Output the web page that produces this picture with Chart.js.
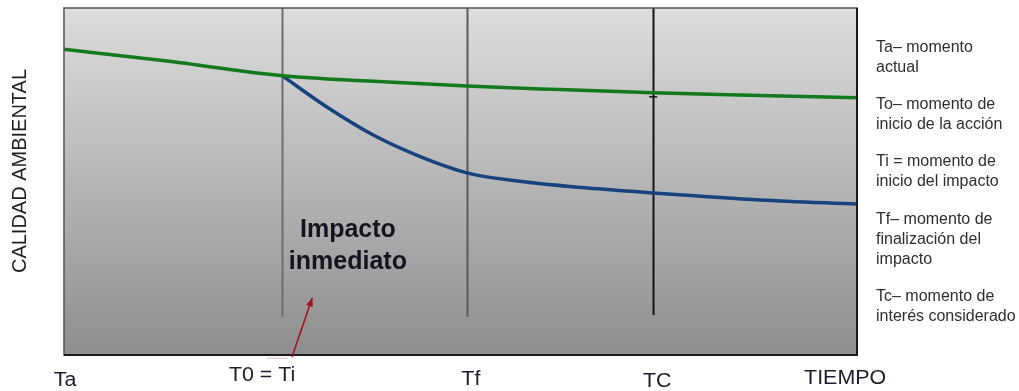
<!DOCTYPE html>
<html>
<head>
<meta charset="utf-8">
<script src="https://cdn.jsdelivr.net/npm/chart.js@4"></script>
<style>
    html, body { margin: 0; padding: 0; background: #fff; }
    #wrap { width: 1019px; height: 391px; position: relative; }
</style>
</head>
<body>
<div id="wrap"><canvas id="chart"></canvas></div>
<script>
// calidad ambiental sin proyecto (verde)
const tiempoSinProyecto = [0, 13, 27.5, 39, 50.8, 62.5, 74.3, 87.8, 100];
const calidadSinProyecto = [88.1, 84.7, 80.5, 78.9, 77.5, 76.5, 75.6, 74.8, 74.1];

// calidad ambiental con proyecto (azul), arranca en T0
const tiempoConProyecto = [27.5, 33, 39, 45, 50.8, 58, 66, 74.3, 87.8, 100];
const calidadConProyecto = [80.5, 71.7, 63.4, 57.1, 52.5, 49.9, 48.1, 46.7, 44.7, 43.5];

// marcas del eje de tiempo
const marcaNombres = ['Ta', 'T0 = Ti', 'Tf', 'TC', 'TIEMPO'];
const marcaTiempos = [0, 27.5, 50.8, 74.3, 98.5];

const notas = [
    ['Ta\u2013 momento', 'actual'],
    ['To\u2013 momento de', 'inicio de la acción'],
    ['Ti = momento de', 'inicio del impacto'],
    ['Tf\u2013 momento de', 'finalización del', 'impacto'],
    ['Tc\u2013 momento de', 'interés considerado']
];

const FONT = '"Liberation Sans", Arial, sans-serif';

const toPoints = (xs, ys) => xs.map((x, i) => ({ x: x, y: ys[i] }));

// fondo degradado, marco y lineas verticales
const fondo = {
    id: 'fondo',
    beforeDatasetsDraw(chart) {
        const { ctx, chartArea: a, scales: { x, y } } = chart;
        ctx.save();
        const g = ctx.createLinearGradient(0, a.top, 0, a.bottom);
        g.addColorStop(0, '#dddddd');
        g.addColorStop(1, '#8e8e8e');
        ctx.fillStyle = g;
        ctx.fillRect(a.left, a.top, a.right - a.left, a.bottom - a.top);

        const lineColors = ['#6e6e6e', '#5a5a5a', '#151515'];
        const lineEnds = [11, 11, 11.5];
        for (let i = 1; i <= 3; i++) {
            const px = Math.round(x.getPixelForValue(marcaTiempos[i])) + 0.5;
            ctx.strokeStyle = lineColors[i - 1];
            ctx.lineWidth = 2;
            ctx.beginPath();
            ctx.moveTo(px, a.top);
            ctx.lineTo(px, y.getPixelForValue(lineEnds[i - 1]));
            ctx.stroke();
        }
        // pequena marca sobre Tc
        const tc = x.getPixelForValue(marcaTiempos[3]);
        const ty = y.getPixelForValue(74.4);
        ctx.lineWidth = 1.5;
        ctx.beginPath();
        ctx.moveTo(tc - 4, ty);
        ctx.lineTo(tc + 4, ty);
        ctx.stroke();
        ctx.restore();
    },
    afterDraw(chart) {
        const { ctx, chartArea: a, scales: { x, y } } = chart;
        ctx.save();

        // marco
        ctx.strokeStyle = '#555';
        ctx.lineWidth = 1.5;
        ctx.strokeRect(a.left, a.top, a.right - a.left, a.bottom - a.top);
        ctx.strokeStyle = '#1a1a1a';
        ctx.lineWidth = 2;
        ctx.beginPath();
        ctx.moveTo(a.left, a.bottom);
        ctx.lineTo(a.right, a.bottom);
        ctx.lineTo(a.right, a.top);
        ctx.stroke();

        // etiquetas del eje de tiempo
        const dx = [1, -20, 4, 4, 0];
        const ypos = [380, 375, 379, 381, 378];
        ctx.fillStyle = '#1c1c2c';
        ctx.font = '20px ' + FONT;
        ctx.textAlign = 'center';
        ctx.textBaseline = 'middle';
        marcaNombres.forEach((t, i) => {
            const px = x.getPixelForValue(marcaTiempos[i]) + dx[i];
            ctx.save();
            ctx.translate(px, ypos[i]);
            ctx.scale(1.07, 1);
            ctx.fillText(t, 0, 0);
            ctx.restore();
        });

        // titulo eje y
        ctx.save();
        ctx.translate(20, 171);
        ctx.rotate(-Math.PI / 2);
        ctx.font = '20px ' + FONT;
        ctx.fillStyle = '#1e1e1e';
        ctx.fillText('CALIDAD AMBIENTAL', 0, 0);
        ctx.restore();

        // notas de la derecha
        ctx.textAlign = 'left';
        ctx.font = '16px ' + FONT;
        ctx.fillStyle = '#2e2e2e';
        const starts = [48, 105, 162, 220, 297];
        notas.forEach((bloque, i) => {
            bloque.forEach((linea, j) => {
                ctx.fillText(linea, a.right + 19, starts[i] + j * 20);
            });
        });

        // texto del impacto
        ctx.textAlign = 'center';
        ctx.font = 'bold 25px ' + FONT;
        ctx.fillStyle = '#14141f';
        const cx = x.getPixelForValue(35.8);
        ctx.fillText('Impacto', cx, 230);
        ctx.fillText('inmediato', cx, 262);

        // flecha
        const x0 = x.getPixelForValue(28.75), y0 = y.getPixelForValue(-0.6);
        const x1 = x.getPixelForValue(31.3), y1 = y.getPixelForValue(16.4);
        ctx.strokeStyle = 'rgba(220,150,150,0.7)';
        ctx.lineWidth = 1;
        ctx.beginPath();
        ctx.moveTo(x.getPixelForValue(25.6), y.getPixelForValue(-0.9));
        ctx.lineTo(x.getPixelForValue(28.2), y.getPixelForValue(-0.9));
        ctx.stroke();
        ctx.strokeStyle = '#a3121e';
        ctx.fillStyle = '#a3121e';
        ctx.lineWidth = 1.6;
        ctx.beginPath();
        ctx.moveTo(x0, y0);
        ctx.lineTo(x1, y1);
        ctx.stroke();
        const ang = Math.atan2(y1 - y0, x1 - x0);
        ctx.beginPath();
        ctx.moveTo(x1, y1);
        ctx.lineTo(x1 - 9 * Math.cos(ang - 0.4), y1 - 9 * Math.sin(ang - 0.4));
        ctx.lineTo(x1 - 9 * Math.cos(ang + 0.4), y1 - 9 * Math.sin(ang + 0.4));
        ctx.closePath();
        ctx.fill();

        ctx.restore();
    }
};

const ctx = document.getElementById('chart').getContext('2d');

new Chart(ctx, {
    type: 'line',
    data: {
        datasets: [
            {
                label: 'Sin proyecto',
                data: toPoints(tiempoSinProyecto, calidadSinProyecto),
                borderColor: '#127a1c',
                borderWidth: 3.5,
                pointRadius: 0,
                cubicInterpolationMode: 'monotone'
            },
            {
                label: 'Con proyecto',
                data: toPoints(tiempoConProyecto, calidadConProyecto),
                borderColor: '#17427e',
                borderWidth: 3.5,
                pointRadius: 0,
                cubicInterpolationMode: 'monotone'
            }
        ]
    },
    options: {
        responsive: true,
        maintainAspectRatio: false,
        animation: false,
        layout: {
            padding: { left: 64, top: 8, right: 162, bottom: 36 }
        },
        plugins: {
            legend: { display: false },
            tooltip: { enabled: false }
        },
        scales: {
            x: { type: 'linear', min: 0, max: 100, display: false },
            y: { min: 0, max: 100, display: false }
        }
    },
    plugins: [fondo]
});
</script>
</body>
</html>
